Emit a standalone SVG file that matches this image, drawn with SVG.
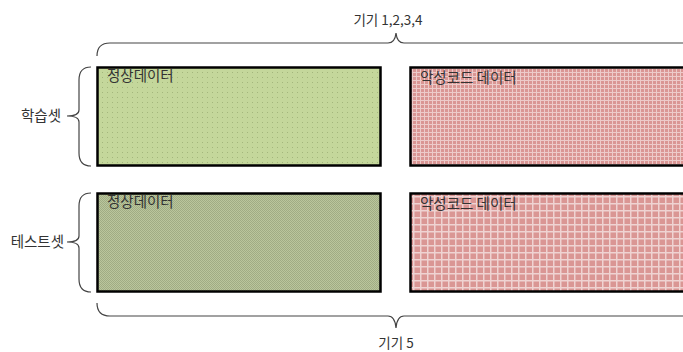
<svg xmlns="http://www.w3.org/2000/svg" width="683" height="352" viewBox="0 0 683 352">
<style>
.t{font-family:"Noto Sans CJK KR","Noto Sans",sans-serif;font-size:14.5px;fill:#333}
.s{font-size:13.5px}
.box{stroke:#000;stroke-width:2.5}
.br{fill:none;stroke:#444;stroke-width:1.2}
</style>
<defs>
<pattern id="pDot" width="5" height="5" patternUnits="userSpaceOnUse">
<rect width="5" height="5" fill="#C4D79B"/>
<rect x="2" y="2" width="1" height="1" fill="#A3B67C"/>
</pattern>
<pattern id="pChk" width="2" height="2" patternUnits="userSpaceOnUse">
<rect width="2" height="2" fill="#BAC69C"/>
<rect width="1" height="1" fill="#A0AC84"/>
<rect x="1" y="1" width="1" height="1" fill="#A0AC84"/>
</pattern>
<pattern id="pGridS" width="4" height="4" patternUnits="userSpaceOnUse">
<rect width="4" height="4" fill="#DA9694"/>
<rect width="4" height="1" fill="#EDCBCA"/>
<rect width="1" height="4" fill="#EDCBCA"/>
</pattern>
<pattern id="pGridL" width="7" height="7" patternUnits="userSpaceOnUse">
<rect width="7" height="7" fill="#DA9694"/>
<rect width="7" height="1.5" fill="#EFD3D2"/>
<rect width="1.5" height="7" fill="#EFD3D2"/>
</pattern>
</defs>
<g id="connectors">
<path class="br" d="M97 56 Q97 43 110 43 L388 43 Q395 43 396 33 Q397 43 404 43 L690 43"/>
<path class="br" d="M97 303 Q97 316 110 316 L388 316 Q395 316 396 328 Q397 316 404 316 L690 316"/>
<path class="br" d="M91 67 Q79 67 79 80 L79 110 Q79 116 67 116 Q79 116 79 122 L79 153 Q79 166 91 166"/>
<path class="br" d="M91 193 Q79 193 79 206 L79 236 Q79 242 67 242 Q79 242 79 248 L79 279 Q79 292 91 292"/>
</g>
<g id="train-normal">
<rect class="box" x="97.5" y="67.5" width="283" height="98" fill="url(#pDot)"/>
<text class="t" x="107" y="81">정상데이터</text>
</g>
<g id="train-malware">
<rect class="box" x="410.5" y="67.5" width="290" height="98" fill="url(#pGridS)"/>
<text class="t" x="420" y="83">악성코드 데이터</text>
</g>
<g id="test-normal">
<rect class="box" x="97.5" y="193.5" width="283" height="98" fill="url(#pChk)"/>
<text class="t" x="107" y="207">정상데이터</text>
</g>
<g id="test-malware">
<rect class="box" x="410.5" y="193.5" width="290" height="98" fill="url(#pGridL)"/>
<text class="t" x="420" y="209">악성코드 데이터</text>
</g>
<g id="labels">
<text class="t s" x="388" y="25" text-anchor="middle">기기 1,2,3,4</text>
<text class="t s" x="396" y="348" text-anchor="middle">기기 5</text>
<text class="t" x="61" y="121" text-anchor="end">학습셋</text>
<text class="t" x="64" y="247" text-anchor="end">테스트셋</text>
</g>
</svg>
